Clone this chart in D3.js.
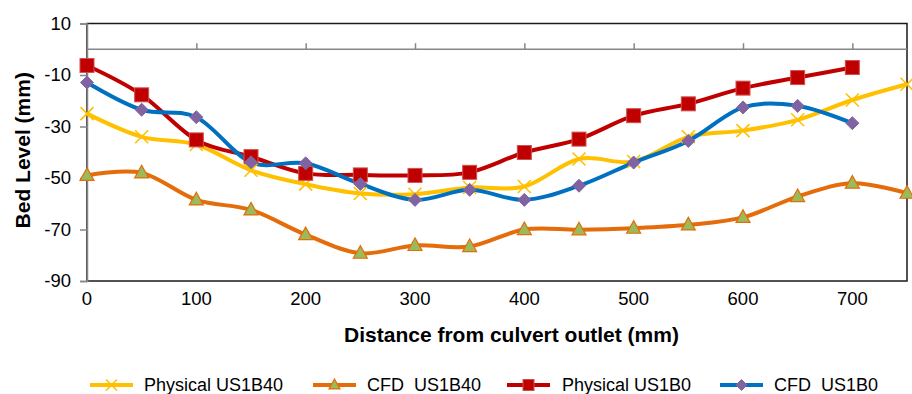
<!DOCTYPE html>
<html><head><meta charset="utf-8">
<script src="https://cdn.jsdelivr.net/npm/d3@7"></script>
<style>
html,body{margin:0;padding:0;background:#fff;}
svg{display:block;font-family:"Liberation Sans",Arial,sans-serif;}
</style></head>
<body><svg id="chart" width="912" height="394"></svg>
<script>
// ---- data ----
const distances = [0,50,100,150,200,250,300,350,400,450,500,550,600,650,700,750];
const physicalUS1B40 = [-25,-34,-37,-47,-52.4,-56,-56.3,-53.7,-53.3,-42.6,-43.6,-34,-31.6,-27.4,-19.7,-13.6];
const cfdUS1B40 = [-49,-48,-58.5,-62.4,-72,-79.2,-76.2,-76.6,-70,-70.1,-69.5,-68.2,-65.3,-57.2,-52,-55.9];
const physicalUS1B0 = [-6.3,-17.7,-35.2,-41.7,-48.2,-48.8,-49,-47.8,-40.1,-34.9,-25.8,-21.2,-15.1,-11,-7.1];
const cfdUS1B0 = [-12.9,-23.5,-26.4,-43.9,-44.3,-52.3,-58.5,-54.6,-58.5,-53,-44,-35.6,-22.6,-22,-28.7];
const xTicks = [0,100,200,300,400,500,600,700];
const yTicks = [10,-10,-30,-50,-70,-90];
const yTickLabels = ["10","-10","-30","-50","-70","-90"];
const seriesNames = ["Physical US1B40","CFD  US1B40","Physical US1B0","CFD  US1B0"];

const series = [
  {name:seriesNames[0], values:physicalUS1B40, line:"#FFC000", marker:"x", fill:"none", stroke:"#FFC000"},
  {name:seriesNames[1], values:cfdUS1B40, line:"#E46C0A", marker:"triangle", fill:"#9BBB59", stroke:"#E46C0A"},
  {name:seriesNames[2], values:physicalUS1B0, line:"#C00000", marker:"square", fill:"#C00000", stroke:"#D0504D"},
  {name:seriesNames[3], values:cfdUS1B0, line:"#0070C0", marker:"diamond", fill:"#8064A2", stroke:"#8064A2"}
];

const svg = d3.select("#chart");
const L=87, R=907, T=23.5, B=281;
const x = d3.scaleLinear().domain([0,750]).range([L,R]);
const y = d3.scaleLinear().domain([-90,10]).range([B,T]);

// plot border
svg.append("rect").attr("x",L).attr("y",T).attr("width",R-L).attr("height",B-T)
  .attr("fill","none").attr("stroke","#1a1a1a").attr("stroke-width",1.5);

// y axis (left)
const yAxis = svg.append("g").attr("transform",`translate(${L},0)`)
  .call(d3.axisLeft(y).tickValues(yTicks).tickSize(7).tickPadding(9)
    .tickFormat((d,i)=>yTickLabels[i]));
yAxis.select(".domain").attr("stroke","#868686").attr("stroke-width",1.5);
yAxis.selectAll(".tick line").attr("stroke","#868686").attr("stroke-width",1.5);
yAxis.selectAll("text").attr("font-size",18.5).attr("fill","#000").attr("font-family","Liberation Sans, Arial, sans-serif");

// x axis line at y=0 with ticks upward
const xAxis = svg.append("g").attr("transform",`translate(0,${y(0)})`)
  .call(d3.axisTop(x).tickValues(xTicks.filter(d=>d>0)).tickSize(6).tickFormat(""));
xAxis.select(".domain").attr("stroke","#868686").attr("stroke-width",1.5).attr("d",`M${L},0H${R}`);
xAxis.selectAll(".tick line").attr("stroke","#868686").attr("stroke-width",1.5);

// x tick labels at bottom
svg.append("g").selectAll("text").data(xTicks).join("text")
  .attr("x",d=>x(d)).attr("y",299).attr("dy","0.35em")
  .attr("text-anchor","middle").attr("font-size",18.5).attr("fill","#000")
  .text(d=>String(d));

// axis titles
svg.append("text").attr("x",(343+680)/2).attr("y",334.5).attr("dy","0.35em")
  .attr("text-anchor","middle").attr("font-size",21).attr("font-weight","bold").text("Distance from culvert outlet (mm)");
svg.append("text").attr("transform",`translate(23,${(T+B)/2-2}) rotate(-90)`).attr("dy","0.35em")
  .attr("text-anchor","middle").attr("font-size",21).attr("font-weight","bold").text("Bed Level (mm)");

// marker drawing
function drawMarker(g, type, s, fill, stroke){
  if(type==="x"){
    const h=s/2;
    g.append("path").attr("d",`M${-h},${-h}L${h},${h}M${-h},${h}L${h},${-h}`)
      .attr("stroke",stroke).attr("stroke-width",1.6).attr("fill","none");
  } else if(type==="square"){
    g.append("rect").attr("x",-s/2).attr("y",-s/2).attr("width",s).attr("height",s)
      .attr("fill",fill).attr("stroke",stroke).attr("stroke-width",1);
  } else if(type==="triangle"){
    const h=s*0.9;
    g.append("path").attr("d",`M0,${-h*0.6}L${s/2},${h*0.4}L${-s/2},${h*0.4}Z`)
      .attr("fill",fill).attr("stroke",stroke).attr("stroke-width",1.2);
  } else if(type==="diamond"){
    const h=s/2;
    g.append("path").attr("d",`M0,${-h}L${h},0L0,${h}L${-h},0Z`)
      .attr("fill",fill).attr("stroke",stroke).attr("stroke-width",1);
  }
}

const lineGen = d3.line().curve(d3.curveCatmullRom.alpha(0));
const plot = svg.append("g");
series.forEach(s=>{
  const pts = s.values.map((v,i)=>[x(distances[i]), y(v)]);
  plot.append("path").attr("d",lineGen(pts)).attr("fill","none")
    .attr("stroke",s.line).attr("stroke-width",4).attr("stroke-linejoin","round");
});
series.forEach(s=>{
  s.values.forEach((v,i)=>{
    const g = plot.append("g").attr("transform",`translate(${x(distances[i])},${y(v)})`);
    const size = s.marker==="diamond"?13: (s.marker==="x"?13:14);
    drawMarker(g, s.marker, size, s.fill, s.stroke);
  });
});

// legend
const legendPos = [{lx:90, tx:144},{lx:313, tx:367},{lx:507, tx:562},{lx:720, tx:774}];
const ly = 385;
series.forEach((s,i)=>{
  const p = legendPos[i];
  svg.append("line").attr("x1",p.lx).attr("x2",p.lx+43).attr("y1",ly).attr("y2",ly)
    .attr("stroke",s.line).attr("stroke-width",4);
  const g = svg.append("g").attr("transform",`translate(${p.lx+21.5},${ly})`);
  drawMarker(g, s.marker, 11, s.fill, s.stroke);
  svg.append("text").attr("x",p.tx).attr("y",ly).attr("dy","0.35em")
    .attr("font-size",18).attr("fill","#000").text(s.name).attr("xml:space","preserve").style("white-space","pre");
});
</script></body></html>
